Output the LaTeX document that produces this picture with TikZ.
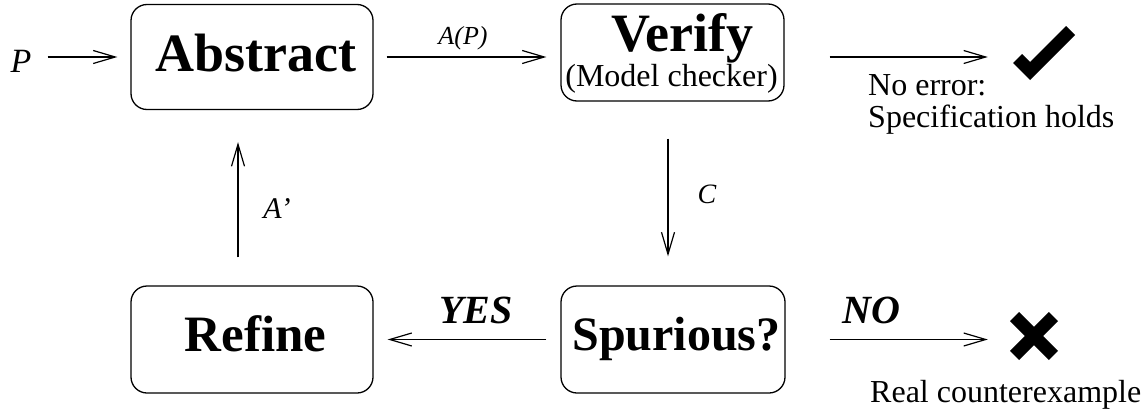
\documentclass[tikz,border=0pt]{standalone}
\usepackage{fontspec}
\setmainfont{Liberation Serif}
\usetikzlibrary{arrows.meta}
\tikzset{
  box/.style={draw, line width=1.3pt, rounded corners=16pt, inner sep=0pt},
  arr/.style={line width=1.2pt, -{Straight Barb[length=22pt,width=13pt,line width=1.2pt]}},
  bigt/.style={anchor=base, inner sep=0pt, font=\fontsize{51}{51}\selectfont\bfseries},
  midt/.style={anchor=base, inner sep=0pt, font=\fontsize{32}{32}\selectfont},
  txt/.style={anchor=base west, inner sep=0pt, font=\fontsize{32}{32}\selectfont},
  lab/.style={anchor=base, inner sep=0pt, font=\fontsize{28}{28}\selectfont\itshape},
  ans/.style={anchor=base, inner sep=0pt, font=\fontsize{40}{40}\selectfont\bfseries\itshape},
  sym/.style={inner sep=0pt}
}
\begin{document}
\begin{tikzpicture}[x=1pt,y=-1pt]
\useasboundingbox (0,0) rectangle (1147,415);
% boxes
\node[box, minimum width=242pt, minimum height=105pt] (abstract) at (252,57) {};
\node[box, minimum width=223pt, minimum height=97pt] (verify) at (672.5,52.5) {};
\node[box, minimum width=242pt, minimum height=107pt] (refine) at (252,339.5) {};
\node[box, minimum width=224pt, minimum height=107pt] (spurious) at (673,339.5) {};
% box texts
\node[bigt, font=\fontsize{54}{54}\selectfont\bfseries] (abstractt) at (256,71) {Abstract};
\node[bigt, font=\fontsize{54}{54}\selectfont\bfseries] (verifyt) at (682,51) {Verify};
\node[midt] (verifys) at (671.5,86) {(Model checker)};
\node[bigt] (refinet) at (255.5,351) {Refine};
\node[bigt, font=\fontsize{48}{48}\selectfont\bfseries] (spurioust) at (676.5,350) {Spurious?};
% symbols
\node[sym, minimum width=62pt, minimum height=54pt] (ok) at (1044,53) {};
\fill (1013,63) -- (1022,54) -- (1030,62) -- (1066,26) -- (1075,35) -- (1030,80) -- cycle;
\node[sym, minimum width=48pt, minimum height=48pt] (bad) at (1034,336) {};
\draw[line width=13pt] (1014.6,316.6) -- (1053.4,355.4);
\draw[line width=13pt] (1014.6,355.4) -- (1053.4,316.6);
% input
\node[lab, font=\fontsize{34}{34}\selectfont\itshape] (p) at (21,72) {P};
% connectors
\coordinate (cx) at (668,0);
\coordinate (ax) at (238,0);
\draw[arr, shorten <=16pt, shorten >=13pt] (p.east |- abstract.east) -- (abstract.west);
\draw[arr, shorten <=13pt, shorten >=14pt] (abstract.east) -- (abstract.east -| verify.west);
\draw[arr, shorten <=45pt, shorten >=25pt] (abstract.east -| verify.east) -- (abstract.east -| ok.west);
\draw[arr, shorten <=37pt, shorten >=29pt] (verify.south -| cx) -- (spurious.north -| cx);
\draw[arr, shorten <=14pt, shorten >=14pt] (spurious.west) -- (refine.east);
\draw[arr, shorten <=28pt, shorten >=32pt] (refine.north -| ax) -- (abstract.south -| ax);
\draw[arr, shorten <=44pt, shorten >=22pt] (spurious.east) -- (spurious.east -| bad.west);
% labels
\node[lab, font=\fontsize{26}{26}\selectfont\itshape] (lap) at (463,44) {A(P)};
\node[lab] (lc) at (707,203) {C};
\node[lab, font=\fontsize{30}{30}\selectfont\itshape] (la) at (277,218) {A'};
\node[ans] (lyes) at (476,323) {YES};
\node[ans] (lno) at (871.5,323) {NO};
% outcome texts
\node[txt] (noerr) at (868,95) {No error:};
\node[txt] (spec) at (868,127) {Specification holds};
\node[txt] (real) at (870,402) {Real counterexample};
\end{tikzpicture}
\end{document}
